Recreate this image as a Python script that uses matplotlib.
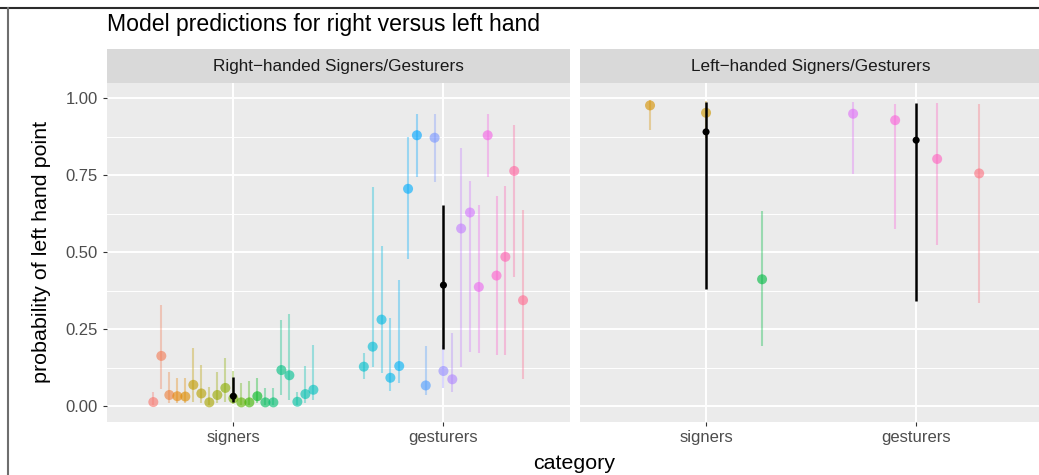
import numpy as np
import matplotlib
matplotlib.use("Agg")
import matplotlib.pyplot as plt
from matplotlib.lines import Line2D

plt.rcParams["font.family"] = ["Liberation Sans", "DejaVu Sans"]

# ---------------- data ----------------
categories = ["signers", "gesturers"]
panel_titles = ["Right\u2212handed Signers/Gesturers", "Left\u2212handed Signers/Gesturers"]
title = "Model predictions for right versus left hand"
x_title = "category"
y_title = "probability of left hand point"
y_ticks = [0.0, 0.25, 0.50, 0.75, 1.00]
y_tick_labels = ["0.00", "0.25", "0.50", "0.75", "1.00"]

n_participants = 47  # colour index over all participants

# right-handed signers
rh_sign_id = [0, 1, 2, 3, 4, 7, 8, 9, 10, 11, 12, 13, 14, 15, 17, 18, 19, 20, 21, 22, 23]
rh_sign_est = [0.013, 0.163, 0.036, 0.032, 0.031, 0.069, 0.041, 0.012, 0.036, 0.059, 0.025,
               0.012, 0.012, 0.032, 0.012, 0.012, 0.117, 0.100, 0.014, 0.039, 0.053]
rh_sign_lo = [0.002, 0.057, 0.009, 0.010, 0.010, 0.014, 0.009, 0.003, 0.009, 0.014, 0.006,
              0.002, 0.003, 0.010, 0.003, 0.003, 0.036, 0.020, 0.003, 0.010, 0.020]
rh_sign_hi = [0.045, 0.330, 0.111, 0.090, 0.090, 0.190, 0.132, 0.063, 0.111, 0.157, 0.115,
              0.075, 0.080, 0.090, 0.060, 0.060, 0.280, 0.300, 0.045, 0.130, 0.200]
rh_sign_mean = [0.032, 0.014, 0.093]

# right-handed gesturers
rh_gest_id = [24, 25, 26, 27, 28, 29, 30, 31, 32, 33, 34, 35, 36, 38, 39, 41, 43, 44, 45]
rh_gest_est = [0.128, 0.193, 0.281, 0.092, 0.130, 0.706, 0.880, 0.067, 0.872, 0.114,
               0.087, 0.577, 0.629, 0.387, 0.880, 0.424, 0.485, 0.764, 0.344]
rh_gest_lo = [0.087, 0.128, 0.106, 0.049, 0.076, 0.477, 0.744, 0.036, 0.728, 0.060,
              0.046, 0.128, 0.176, 0.171, 0.744, 0.166, 0.166, 0.420, 0.087]
rh_gest_hi = [0.174, 0.712, 0.520, 0.285, 0.411, 0.874, 0.948, 0.195, 0.948, 0.200,
              0.238, 0.840, 0.732, 0.655, 0.948, 0.682, 0.714, 0.912, 0.636]
rh_gest_mean = [0.393, 0.187, 0.653]

# left-handed signers
lh_sign_id = [5, 6, 16]
lh_sign_est = [0.977, 0.953, 0.412]
lh_sign_lo = [0.896, 0.870, 0.195]
lh_sign_hi = [0.994, 0.990, 0.633]
lh_sign_mean = [0.891, 0.379, 0.988]

# left-handed gesturers
lh_gest_id = [37, 40, 42, 46]
lh_gest_est = [0.950, 0.929, 0.803, 0.756]
lh_gest_lo = [0.755, 0.577, 0.523, 0.335]
lh_gest_hi = [0.989, 0.983, 0.986, 0.983]
lh_gest_mean = [0.864, 0.341, 0.986]


# ---------------- helpers ----------------
def hcl_to_rgb(h, c=100.0, l=65.0):
    """Polar LUV -> sRGB, as used by the default ggplot hue palette."""
    hr = np.deg2rad(h)
    U, V = c * np.cos(hr), c * np.sin(hr)
    Y = 100.0 * ((l + 16.0) / 116.0) ** 3
    u = U / (13.0 * l) + 0.1978398
    v = V / (13.0 * l) + 0.4683363
    X = 9.0 * Y * u / (4.0 * v)
    Z = -X / 3.0 - 5.0 * Y + 3.0 * Y / v
    rgb = np.array([
        3.240479 * X - 1.537150 * Y - 0.498535 * Z,
        -0.969256 * X + 1.875992 * Y + 0.041556 * Z,
        0.055648 * X - 0.204043 * Y + 1.057311 * Z,
    ]) / 100.0
    out = np.where(rgb > 0.00304, 1.055 * np.abs(rgb) ** (1 / 2.4) - 0.055, 12.92 * rgb)
    return np.clip(out, 0, 1)


def participant_colour(idx):
    return hcl_to_rgb(15 + 360.0 * idx / n_participants)


W, H = 1039, 475
fig = plt.figure(figsize=(W / 100, H / 100), dpi=100)

panel_bg = "#EBEBEB"
strip_bg = "#D9D9D9"
dodge = 0.8

panel_left = [107.3, 580.0]
panel_w = 462.2
panel_top, panel_bot = 82.7, 421.7
strip_top = 49.3

panels = [
    [(rh_sign_id, rh_sign_est, rh_sign_lo, rh_sign_hi, rh_sign_mean),
     (rh_gest_id, rh_gest_est, rh_gest_lo, rh_gest_hi, rh_gest_mean)],
    [(lh_sign_id, lh_sign_est, lh_sign_lo, lh_sign_hi, lh_sign_mean),
     (lh_gest_id, lh_gest_est, lh_gest_lo, lh_gest_hi, lh_gest_mean)],
]

for p, (x0, groups) in enumerate(zip(panel_left, panels)):
    ax = fig.add_axes([x0 / W, (H - panel_bot) / H, panel_w / W, (panel_bot - panel_top) / H])
    ax.set_facecolor(panel_bg)
    for s in ax.spines.values():
        s.set_visible(False)
    ax.set_xlim(0.4, 2.6)
    ax.set_ylim(-0.0508, 1.0508)
    # grid
    for yv in [0.125, 0.375, 0.625, 0.875]:
        ax.axhline(yv, color="white", lw=0.7, zorder=0.5)
    for yv in y_ticks:
        ax.axhline(yv, color="white", lw=1.4, zorder=0.6)
    for xv in [1, 2]:
        ax.axvline(xv, color="white", lw=1.4, zorder=0.6)

    for ci, (ids, est, lo, hi, mean) in enumerate(groups):
        n = len(ids)
        centre = ci + 1
        xs = centre + (np.arange(n) - (n - 1) / 2) * dodge / n
        cols = np.array([participant_colour(i) for i in ids])
        line_cols = np.column_stack([cols, np.full(n, 0.35)])
        pt_cols = np.column_stack([cols, np.full(n, 0.62)])
        ax.vlines(xs, lo, hi, colors=line_cols, lw=1.5, zorder=2)
        ax.scatter(xs, est, s=52, c=pt_cols, edgecolors="none", zorder=3)
        ax.vlines(centre, mean[1], mean[2], colors="black", lw=1.8, zorder=4)
        ax.scatter([centre], [mean[0]], s=26, c="black", edgecolors="none", zorder=5)

    ax.set_xticks([1, 2])
    ax.set_xticklabels(categories)
    ax.tick_params(axis="x", length=2.9, width=0.8, color="#333333", labelsize=12,
                   labelcolor="#4D4D4D", pad=3)
    if p == 0:
        ax.set_yticks(y_ticks)
        ax.set_yticklabels(y_tick_labels)
        ax.tick_params(axis="y", length=2.9, width=0.8, color="#333333", labelsize=12,
                       labelcolor="#4D4D4D", pad=4)
    else:
        ax.set_yticks([])

    # facet strip
    sax = fig.add_axes([x0 / W, (H - panel_top) / H, panel_w / W, (panel_top - strip_top) / H])
    sax.set_facecolor(strip_bg)
    sax.set_xticks([])
    sax.set_yticks([])
    for s in sax.spines.values():
        s.set_visible(False)
    sax.text(0.5, 0.5, panel_titles[p], transform=sax.transAxes, ha="center", va="center",
             fontsize=12.3, color="#1A1A1A")

fig.text(107.3 / W, (H - 31) / H, title, ha="left", va="baseline", fontsize=16.6, color="black")
fig.text(574.5 / W, (H - 469) / H, x_title, ha="center", va="baseline", fontsize=15.4, color="black")
fig.text(42 / W, 1 - (panel_top + panel_bot) / 2 / H, y_title, rotation=90, ha="center",
         va="center", fontsize=15.4, color="black")

# frame lines along the top and left edges
fig.add_artist(Line2D([0, 1], [1 - 7.5 / H, 1 - 7.5 / H], color="#2B2B2B", lw=1.5,
                      transform=fig.transFigure))
fig.add_artist(Line2D([7.5 / W, 7.5 / W], [0, 1 - 7.5 / H], color="#6E6E6E", lw=1.5,
                      transform=fig.transFigure))

fig.savefig("out.png", dpi=100, facecolor="white")
